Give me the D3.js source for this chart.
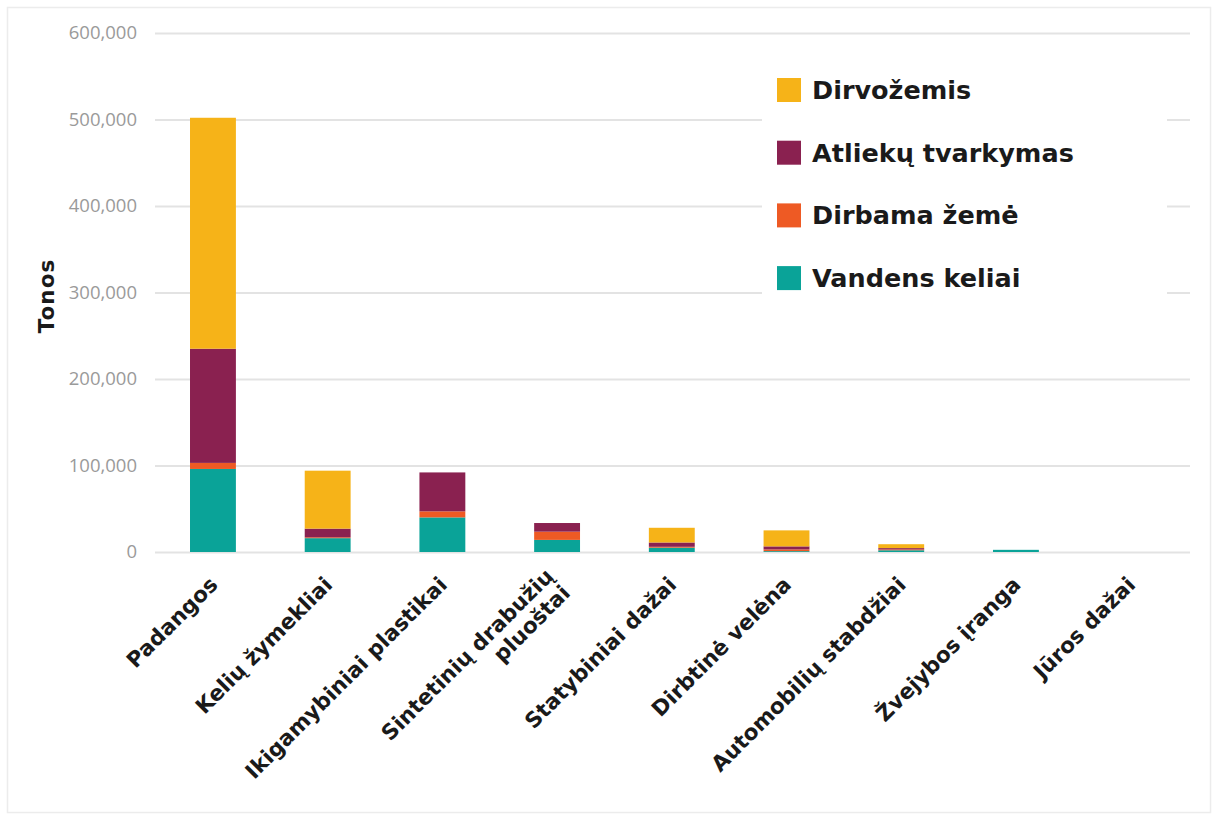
<!DOCTYPE html>
<html>
<head>
<meta charset="utf-8">
<script src="https://cdn.jsdelivr.net/npm/d3@7"></script>
<style>
  body { margin: 0; background: #fff; }
  .tick text { font-family: "Open Sans", sans-serif; font-size: 18.5px; fill: #9a9a9a; }
  .xlab { font-family: "DejaVu Sans", sans-serif; font-weight: bold; font-size: 21.5px; fill: #1a1a1a; }
  .legend text { font-family: "DejaVu Sans", sans-serif; font-weight: bold; font-size: 25.5px; fill: #1a1a1a; }
</style>
</head>
<body>
<svg id="chart"></svg>
<script>
// categories, bottom-up stack order: Vandens keliai, Dirbama žemė, Atliekų tvarkymas, Dirvožemis
var categories = ["Padangos", "Kelių žymekliai", "Ikigamybiniai plastikai", "Sintetinių drabužių\npluoštai",
                  "Statybiniai dažai", "Dirbtinė velėna", "Automobilių stabdžiai", "Žvejybos įranga", "Jūros dažai"];
var vandensKeliai    = [96000, 16000, 40000, 14000, 5000, 1000, 2000, 2500, 0];
var dirbamaZeme      = [7000, 1000, 7000, 9500, 1000, 2000, 1000, 0, 0];
var atliekuTvarkymas = [132000, 10000, 45000, 10000, 5000, 3500, 1500, 0, 0];
var dirvozemis       = [267000, 67000, 0, 0, 17000, 18500, 4500, 0, 0];
var seriesNames  = ["Vandens keliai", "Dirbama žemė", "Atliekų tvarkymas", "Dirvožemis"];
var seriesColors = ["#0aa398", "#ee5a24", "#8a2150", "#f6b318"];
var yTicks = [0, 100000, 200000, 300000, 400000, 500000, 600000];

var width = 1213, height = 819;
var svg = d3.select("#chart").attr("width", width).attr("height", height);

// faint outer frame
svg.append("rect").attr("x", 7.5).attr("y", 7.5).attr("width", 1203).attr("height", 805)
   .attr("fill", "#fff").attr("stroke", "#ececec").attr("stroke-width", 1.5);

var x = d3.scaleBand().domain(categories).range([155.6, 1188]).paddingInner(0.6).paddingOuter(0.3);
var y = d3.scaleLinear().domain([0, 600000]).range([552, 33]);

// gridlines + y labels
var yAxis = svg.append("g").attr("transform", "translate(155,0)")
   .call(d3.axisLeft(y).tickValues(yTicks).tickSize(-1035).tickPadding(18).tickFormat(d3.format(",")));
yAxis.select(".domain").remove();
yAxis.selectAll(".tick line").attr("stroke", "#e3e3e3").attr("stroke-width", 2);

// y title
svg.append("text").attr("transform", "translate(54,296) rotate(-90)")
   .attr("text-anchor", "middle")
   .style("font-family", "DejaVu Sans, sans-serif").style("font-weight", "bold")
   .style("font-size", "21.5px").style("letter-spacing", "1px").style("fill", "#1a1a1a")
   .text("Tonos");

// stacked data
var rows = categories.map(function(c, i) {
  return {cat: c, s0: vandensKeliai[i], s1: dirbamaZeme[i], s2: atliekuTvarkymas[i], s3: dirvozemis[i]};
});
var stack = d3.stack().keys(["s0", "s1", "s2", "s3"])(rows);

svg.append("g").selectAll("g").data(stack).enter().append("g")
   .attr("fill", function(d, i) { return seriesColors[i]; })
   .selectAll("rect").data(function(d) { return d; }).enter().append("rect")
   .attr("x", function(d) { return x(d.data.cat); })
   .attr("width", x.bandwidth())
   .attr("y", function(d) { return y(d[1]); })
   .attr("height", function(d) { return y(d[0]) - y(d[1]); });

// rotated category labels
var labels = svg.append("g").selectAll("text").data(categories).enter().append("text")
   .attr("class", "xlab")
   .attr("text-anchor", "end")
   .attr("transform", function(d) {
     return "translate(" + (x(d) + x.bandwidth() / 2 + 6) + ",586) rotate(-45)";
   });
labels.each(function(d) {
  var lines = d.split("\n");
  var t = d3.select(this);
  lines.forEach(function(line, k) {
    t.append("tspan").attr("x", 0)
     .attr("dy", k === 0 ? (-(lines.length - 1) * 0.55) + "em" : "1.1em")
     .text(line);
  });
});

// legend with white backing
var legend = svg.append("g").attr("class", "legend");
legend.append("rect").attr("x", 762).attr("y", 52).attr("width", 405).attr("height", 252).attr("fill", "#fff");
var legendOrder = [3, 2, 1, 0];
legendOrder.forEach(function(si, k) {
  var cy = 90 + k * 62.7;
  legend.append("rect").attr("x", 777).attr("y", cy - 12).attr("width", 24).attr("height", 24)
        .attr("fill", seriesColors[si]);
  legend.append("text").attr("x", 812).attr("y", cy + 9).text(seriesNames[si]);
});
</script>
</body>
</html>
